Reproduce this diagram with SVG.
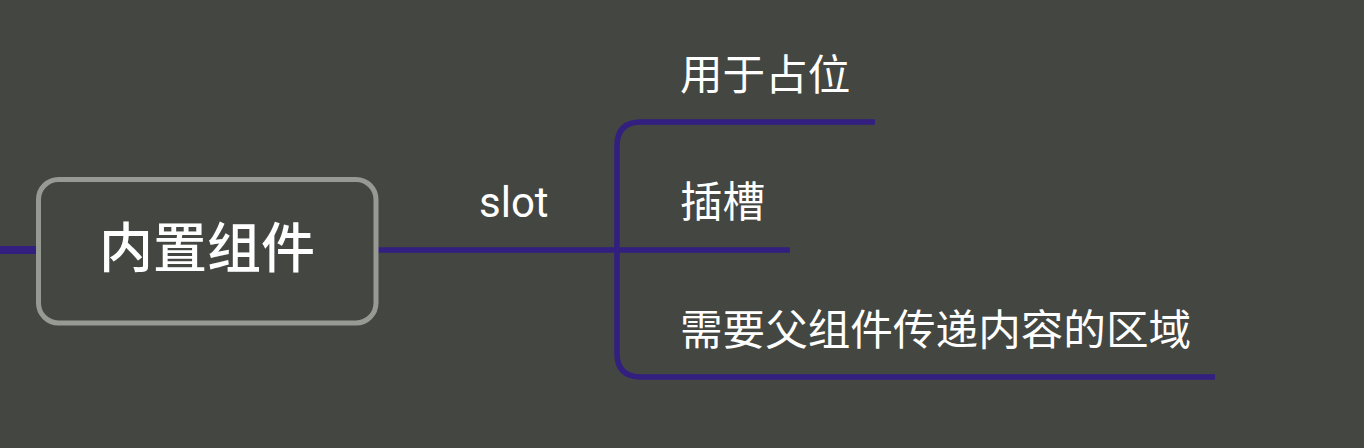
<svg xmlns="http://www.w3.org/2000/svg" width="1364" height="448" viewBox="0 0 1364 448">
<style>
.bg{fill:#444641}
.conn{fill:none;stroke:#321f80;stroke-width:5.5}
.node{fill:#444641;stroke:#979a93;stroke-width:5}
.t{fill:#ffffff;font-family:"Noto Sans CJK SC","Noto Sans",sans-serif;font-size:42.6px}
.title{fill:#ffffff;font-family:"Noto Sans CJK SC","Noto Sans",sans-serif;font-size:54px;font-weight:500}
.lbl{fill:#ffffff;font-family:Roboto,"Noto Sans",sans-serif;font-size:42px}
</style>
<rect class="bg" x="0" y="0" width="1364" height="448"/>
<g id="connectors">
<line class="conn" x1="0" y1="250" x2="38" y2="250" style="stroke-width:8"/>
<line class="conn" x1="376" y1="250" x2="790" y2="250"/>
<path class="conn" d="M875 122 H641 Q617 122 617 146 V353 Q617 377 641 377 H1215"/>
</g>
<g id="edge-label-slot">
<text class="lbl" x="479" y="217">slot</text>
</g>
<g id="node-root">
<rect class="node" x="38.5" y="179.5" width="337.5" height="143.5" rx="20"/>
<text class="title" x="207" y="268" text-anchor="middle">内置组件</text>
</g>
<g id="node-1">
<text class="t" x="680" y="90">用于占位</text>
</g>
<g id="node-2">
<text class="t" x="680" y="217">插槽</text>
</g>
<g id="node-3">
<text class="t" x="680" y="345">需要父组件传递内容的区域</text>
</g>
</svg>
